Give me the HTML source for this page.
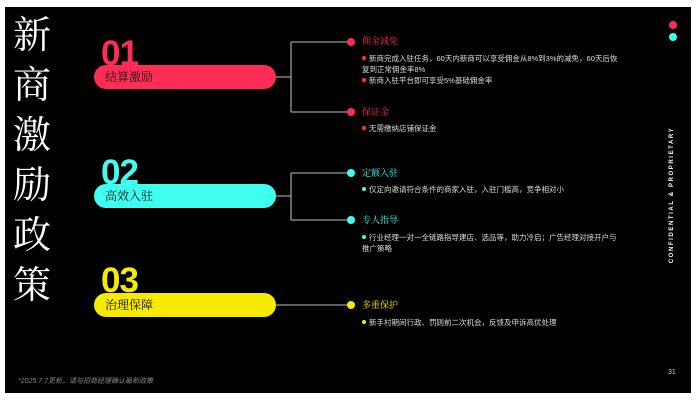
<!DOCTYPE html>
<html><head><meta charset="utf-8"><style>
body{margin:0;width:699px;height:407px;background:#fff;position:relative;overflow:hidden;font-family:"Liberation Sans","Noto Sans CJK SC",sans-serif}
#bg{position:absolute;left:5px;top:7px;width:686px;height:386px;background:#000}
.a{position:absolute;white-space:nowrap}
.t{left:13px;font-size:38px;color:#fff;font-family:"Noto Serif CJK SC","Noto Sans CJK SC",serif;line-height:40px}
.num{font-size:35px;font-weight:bold;line-height:30px;letter-spacing:-1px}
.pill{position:absolute;left:94px;width:182px;height:24px;border-radius:12px}
.pl{position:absolute;left:105px;font-size:12px;color:#111;line-height:24px;font-family:"Noto Serif CJK SC",serif}
.h{font-size:9px;line-height:12px;font-family:"Noto Serif CJK SC",serif}
.b{font-size:7.5px;line-height:11px;color:#ddd;white-space:normal;width:260px}
.dot{position:absolute;width:8px;height:8px;border-radius:4px}
.sd{display:inline-block;width:4px;height:4px;border-radius:2px;margin-right:3px;vertical-align:1px}
</style></head><body>
<div id="bg"></div>
<div class="a t" style="top:12px">新</div>
<div class="a t" style="top:62px">商</div>
<div class="a t" style="top:112px">激</div>
<div class="a t" style="top:162px">励</div>
<div class="a t" style="top:212px">政</div>
<div class="a t" style="top:262px">策</div>

<div class="a num" style="left:101px;top:39px;color:#ff2d55">01</div>
<div class="pill" style="top:65px;background:#ff2d55"></div>
<div class="pl" style="top:65px">结算激励</div>
<div class="a num" style="left:101px;top:158px;color:#3ffff0">02</div>
<div class="pill" style="top:184px;background:#3ffff0"></div>
<div class="pl" style="top:184px">高效入驻</div>
<div class="a num" style="left:101px;top:266px;color:#f5ea00">03</div>
<div class="pill" style="top:293px;background:#f5ea00"></div>
<div class="pl" style="top:293px">治理保障</div>

<svg class="a" style="left:0;top:0" width="699" height="407">
<g stroke="#999" stroke-width="1.3" fill="none">
<path d="M276 77H291M291 42V112M291 42H350M291 112H350"/>
<path d="M276 196H291M291 173V220M291 173H350M291 220H350"/>
<path d="M276 305H350"/>
</g>
<circle cx="351" cy="42" r="4" fill="#ff2d55"/>
<circle cx="351" cy="112" r="4" fill="#ff2d55"/>
<circle cx="351" cy="173" r="4" fill="#3ffff0"/>
<circle cx="351" cy="220" r="4" fill="#3ffff0"/>
<circle cx="351" cy="305" r="4" fill="#f5ea00"/>
<circle cx="673" cy="25" r="4" fill="#ff2d55"/>
<circle cx="673" cy="37" r="4" fill="#3ffff0"/>
</svg>

<div class="a h" style="left:362px;top:35px;color:#ff2d55">佣金减免</div>
<div class="a b" style="left:362px;top:53px"><span class="sd" style="background:#ff2d55"></span>新商完成入驻任务，60天内新商可以享受佣金从8%到3%的减免，60天后恢复到正常佣金率8%</div>
<div class="a b" style="left:362px;top:75px"><span class="sd" style="background:#ff2d55"></span>新商入驻平台即可享受5%基础佣金率</div>
<div class="a h" style="left:362px;top:106px;color:#ff2d55">保证金</div>
<div class="a b" style="left:362px;top:123px"><span class="sd" style="background:#ff2d55"></span>无需缴纳店铺保证金</div>

<div class="a h" style="left:362px;top:167px;color:#3ffff0">定额入驻</div>
<div class="a b" style="left:362px;top:184px"><span class="sd" style="background:#3ffff0"></span>仅定向邀请符合条件的商家入驻，入驻门槛高，竞争相对小</div>
<div class="a h" style="left:362px;top:214px;color:#3ffff0">专人指导</div>
<div class="a b" style="left:362px;top:232px"><span class="sd" style="background:#3ffff0"></span>行业经理一对一全链路指导建店、选品等，助力冷启；广告经理对接开户与推广策略</div>

<div class="a h" style="left:362px;top:299px;color:#f5ea00">多重保护</div>
<div class="a b" style="left:362px;top:317px"><span class="sd" style="background:#f5ea00"></span>新手村期间行政、罚则前二次机会，反馈及申诉高优处理</div>

<div class="a" style="left:672px;top:195px;transform:translate(-50%,-50%) rotate(-90deg);font-size:6px;font-weight:bold;letter-spacing:1.6px;color:#fff">CONFIDENTIAL &amp; PROPRIETARY</div>
<div class="a" style="left:668px;top:369px;font-size:7px;color:#ccc">31</div>
<div class="a" style="left:18px;top:376px;font-size:7px;font-style:italic;color:#888">*2025.7.7更新，请与招商经理确认最新政策</div>
</body></html>
